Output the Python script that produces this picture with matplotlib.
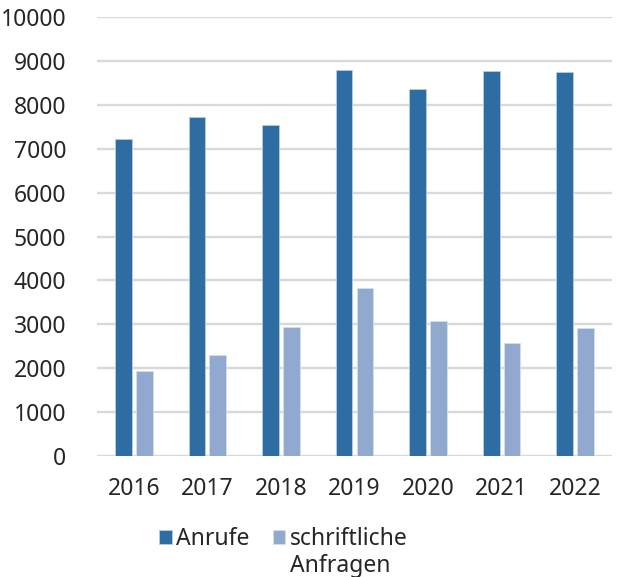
import numpy as np
import matplotlib.pyplot as plt

plt.rcParams['font.family'] = ['Noto Sans', 'DejaVu Sans']

# --- data ---
years = ["2016", "2017", "2018", "2019", "2020", "2021", "2022"]
anrufe = [7215, 7720, 7535, 8785, 8355, 8770, 8755]
schriftlich = [1925, 2290, 2950, 3820, 3085, 2585, 2905]
series_names = ["Anrufe", "schriftliche Anfragen"]

dark = "#2E6DA4"
light = "#91A9CF"
grid_col = "#D9D9D9"
text_col = "#262626"
fs = 16.5

fig = plt.figure(figsize=(6.23, 5.77), dpi=100)
ax = fig.add_axes([0.1557, 0.2097, 0.9823 - 0.1557, 0.9705 - 0.2097])

x = np.arange(len(years))
w = 0.227
off = 0.142
b1 = ax.bar(x - off, anrufe, width=w, color=dark, edgecolor="#B8CCE4", linewidth=0.6, zorder=3)
b2 = ax.bar(x + off, schriftlich, width=w, color=light, edgecolor="#D5DFEE", linewidth=0.6, zorder=3)

ax.set_xlim(-0.5, len(years) - 0.5)
ax.set_ylim(0, 10000)
ax.set_yticks(np.arange(0, 10001, 1000))
ax.yaxis.grid(True, color=grid_col, linewidth=1.7, zorder=0)
ax.set_axisbelow(True)
for s in ax.spines.values():
    s.set_visible(False)
ax.tick_params(axis="both", length=0, labelsize=fs, colors=text_col)
ax.tick_params(axis="y", pad=22)
ax.tick_params(axis="x", pad=15)
ax.set_xticks(x)
ax.set_xticklabels(years)

# legend: second series name wraps onto a second line under its first word
first_words = [n.split(" ")[0] for n in series_names]
leg = fig.legend([b1, b2], first_words, loc="upper center", bbox_to_anchor=(0.455, 0.122),
                 ncol=2, frameon=False, fontsize=fs, handlelength=0.55, handleheight=0.55,
                 handletextpad=0.2, columnspacing=1.0, labelcolor=text_col)
fig.canvas.draw()
t2 = leg.get_texts()[1]
bb = t2.get_window_extent().transformed(fig.transFigure.inverted())
fig.text(bb.x0, bb.y0 - 0.004, series_names[1].split(" ", 1)[1], fontsize=fs,
         color=text_col, ha="left", va="top")

fig.savefig("out.png", dpi=100)
